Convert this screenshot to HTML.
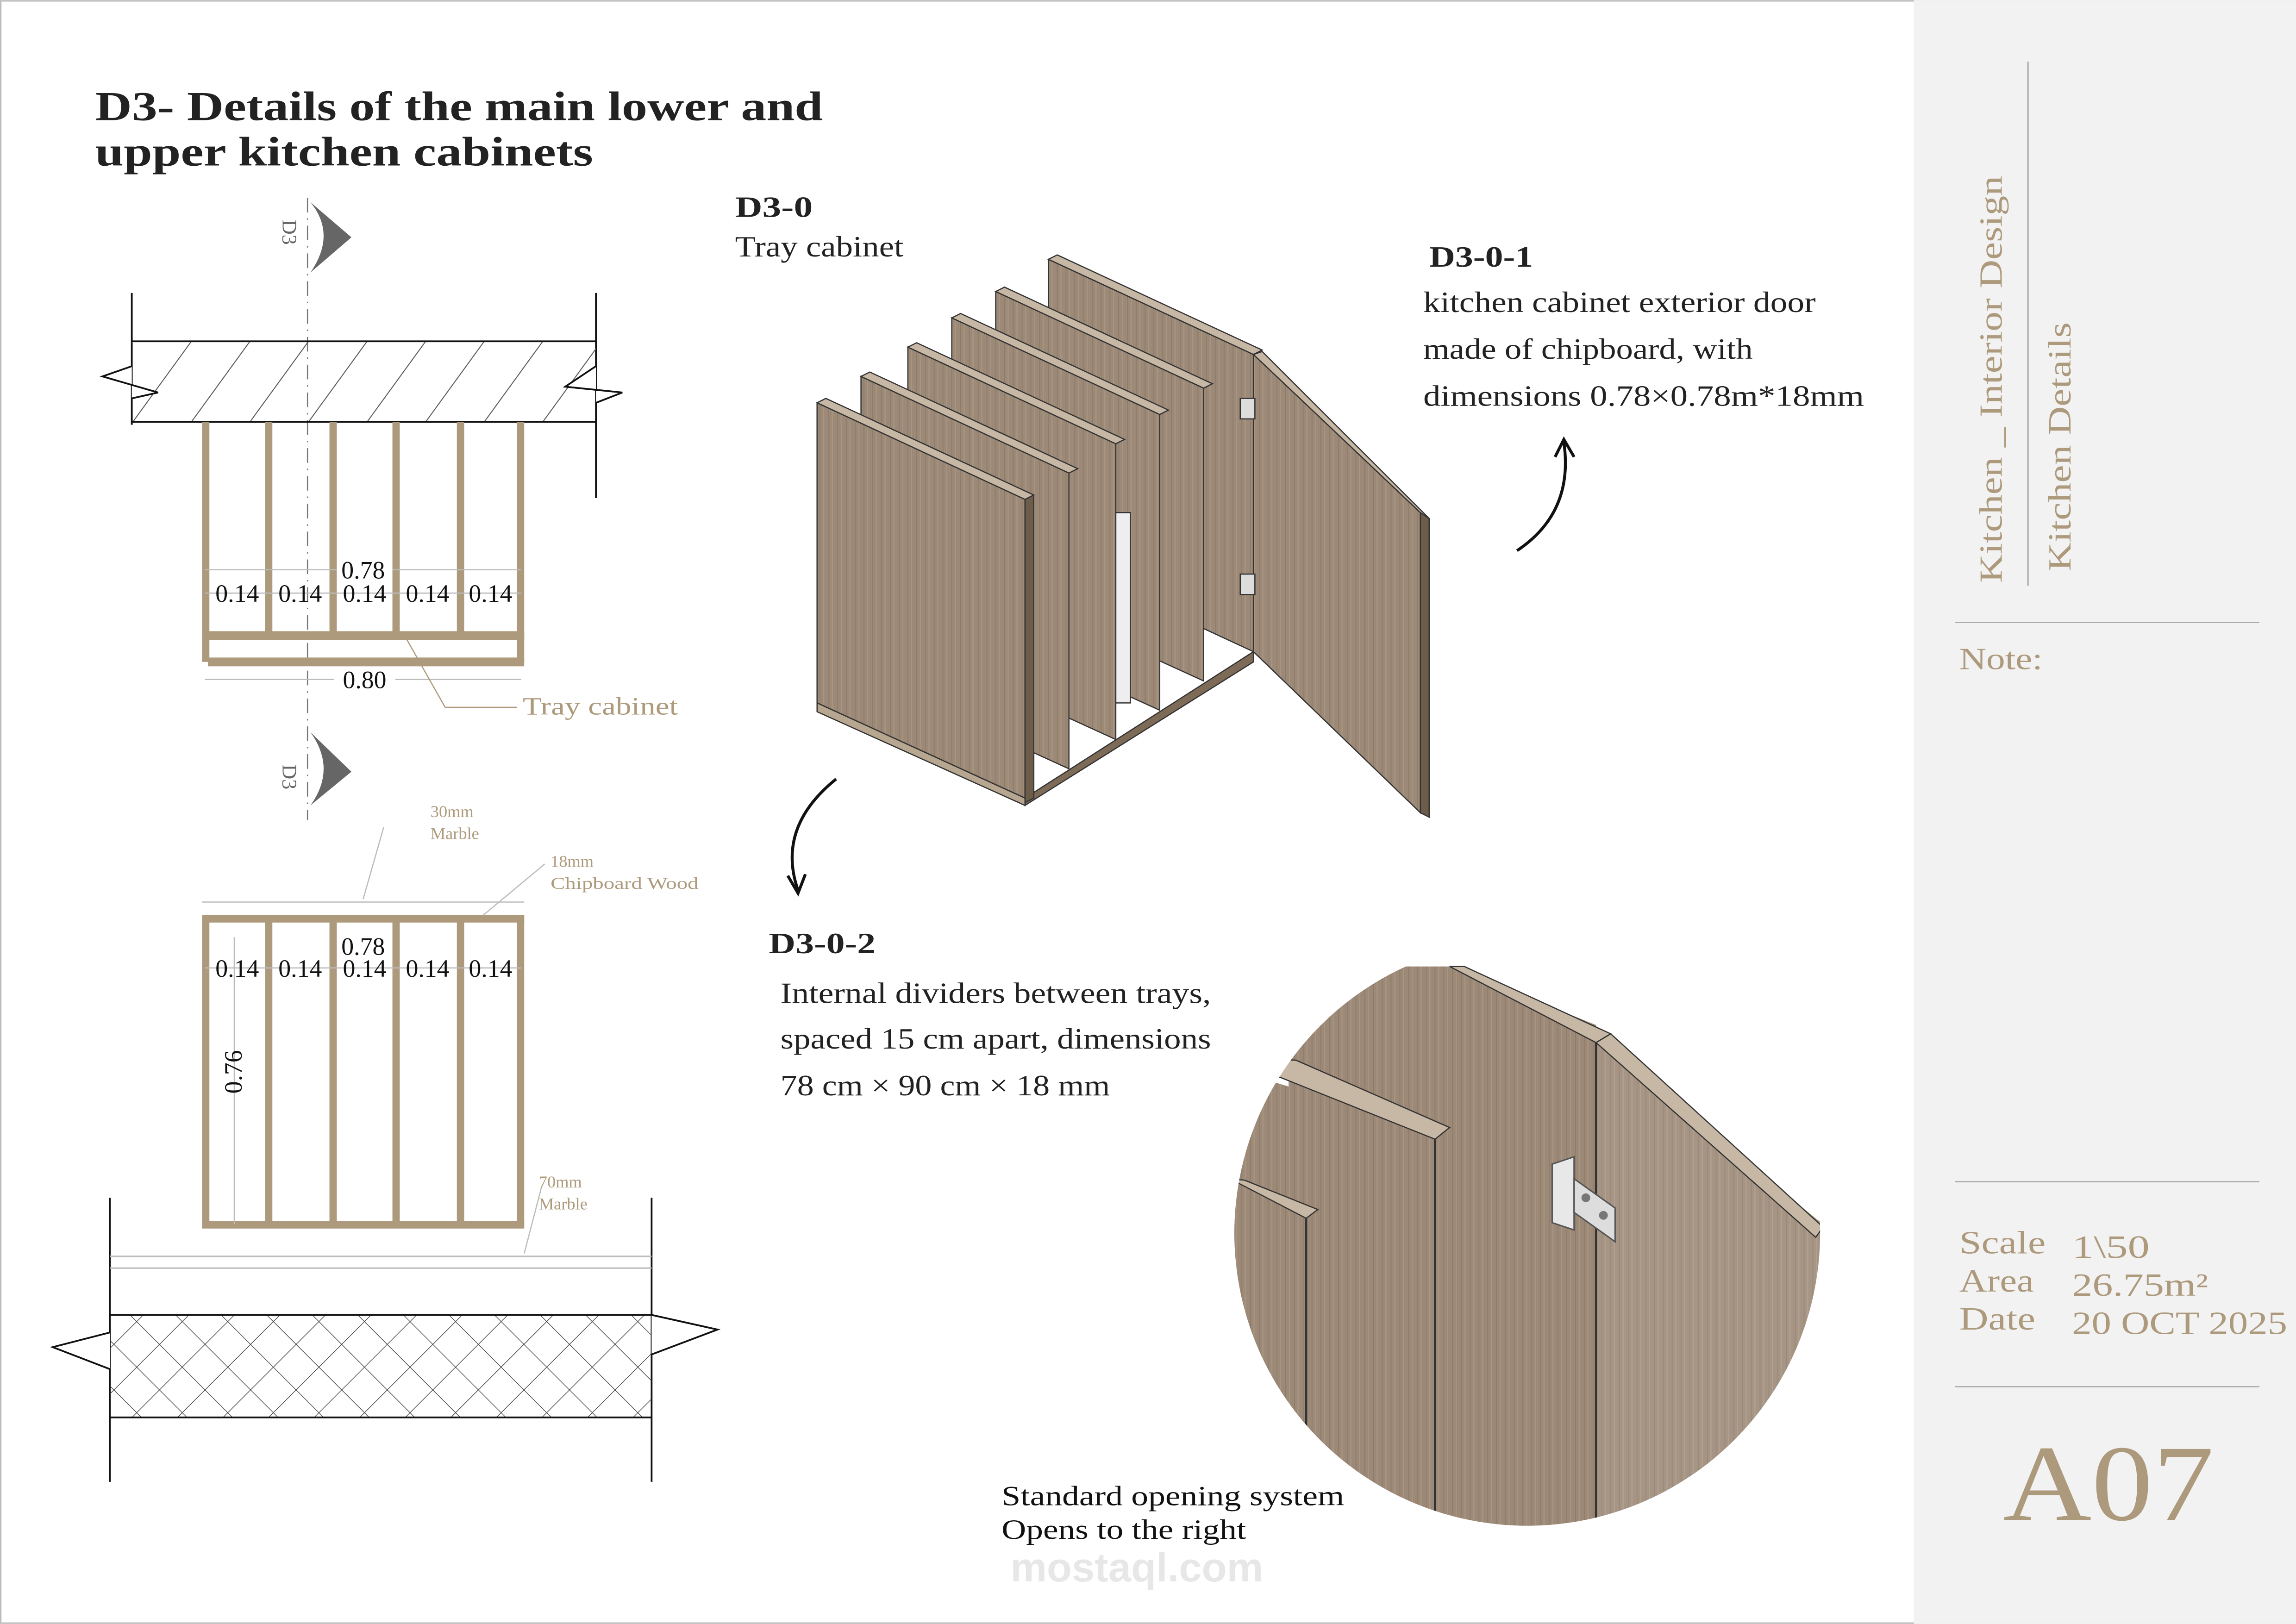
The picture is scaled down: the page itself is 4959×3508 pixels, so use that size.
<!DOCTYPE html>
<html><head><meta charset="utf-8"><style>
html,body{margin:0;padding:0;background:#fff}
svg{display:block}
</style></head><body>
<svg width="4959" height="3508" viewBox="0 0 1568 1109" xmlns="http://www.w3.org/2000/svg" font-family="Liberation Serif, serif">
<defs>
<pattern id="hatch" width="40" height="40" patternUnits="userSpaceOnUse" patternTransform="skewX(-36)">
<line x1="20" y1="0" x2="20" y2="40" stroke="#555" stroke-width="0.8"/>
</pattern>
<pattern id="cross" width="22" height="22" patternUnits="userSpaceOnUse" patternTransform="rotate(45)">
<path d="M0 0H22M0 0V22" stroke="#333" stroke-width="0.8" fill="none"/>
</pattern>
<pattern id="grain" width="6" height="200" patternUnits="userSpaceOnUse">
<rect width="6" height="200" fill="#9c8977"/>
<line x1="2" y1="0" x2="2" y2="200" stroke="#86735f" stroke-width="0.6" opacity="0.6"/>
<line x1="4.5" y1="0" x2="4.5" y2="200" stroke="#b09c86" stroke-width="0.8" opacity="0.6"/>
</pattern>
<clipPath id="circ"><circle cx="1043" cy="842" r="200"/></clipPath>
</defs>
<rect width="1568" height="1109" fill="#fff"/>
<rect x="0.5" y="0.5" width="1567" height="1108" fill="none" stroke="#bbb"/>
<!-- right panel -->
<rect x="1307" y="0" width="261" height="1109" fill="#f2f2f2"/>
<line x1="1385" y1="42" x2="1385" y2="400" stroke="#999" stroke-width="0.8"/>
<text transform="translate(1367,398) rotate(-90)" font-size="22" fill="#ad9a7c" textLength="278" lengthAdjust="spacingAndGlyphs">Kitchen _ Interior Design</text>
<text transform="translate(1414,390) rotate(-90)" font-size="22" fill="#ad9a7c" textLength="170" lengthAdjust="spacingAndGlyphs">Kitchen Details</text>
<line x1="1335" y1="425" x2="1543" y2="425" stroke="#aaa" stroke-width="0.8"/>
<text x="1338" y="457" font-size="21" fill="#ad9a7c" textLength="57" lengthAdjust="spacingAndGlyphs">Note:</text>
<line x1="1335" y1="807" x2="1543" y2="807" stroke="#aaa" stroke-width="0.8"/>
<g font-size="22" fill="#ad9a7c">
<text x="1338" y="856" textLength="59" lengthAdjust="spacingAndGlyphs">Scale</text><text x="1415" y="859" textLength="53" lengthAdjust="spacingAndGlyphs">1\50</text>
<text x="1338" y="882" textLength="51" lengthAdjust="spacingAndGlyphs">Area</text><text x="1415" y="885" textLength="93" lengthAdjust="spacingAndGlyphs">26.75m²</text>
<text x="1338" y="908" textLength="52" lengthAdjust="spacingAndGlyphs">Date</text><text x="1415" y="911" textLength="147" lengthAdjust="spacingAndGlyphs">20 OCT 2025</text>
</g>
<line x1="1335" y1="947" x2="1543" y2="947" stroke="#aaa" stroke-width="0.8"/>
<text x="1368" y="1038" font-size="74" fill="#ad9a7c" textLength="144" lengthAdjust="spacingAndGlyphs">A07</text>

<!-- title -->
<text x="65" y="82" font-size="28" font-weight="bold" fill="#222" textLength="497" lengthAdjust="spacingAndGlyphs">D3- Details of the main lower and</text>
<text x="65" y="113" font-size="28" font-weight="bold" fill="#222" textLength="340" lengthAdjust="spacingAndGlyphs">upper kitchen cabinets</text>

<!-- section marks -->
<line x1="210" y1="135" x2="210" y2="560" stroke="#777" stroke-width="0.8" stroke-dasharray="10,4,1,4"/>
<path d="M212 138 Q230 160 212 186 L240 162 Z" fill="#666"/>
<text transform="translate(193,150) rotate(90)" font-size="14" fill="#666">D3</text>
<path d="M212 500 Q230 525 212 550 L240 527 Z" fill="#666"/>
<text transform="translate(193,522) rotate(90)" font-size="14" fill="#666">D3</text>

<!-- top slab -->
<line x1="90" y1="200" x2="90" y2="290" stroke="#111" stroke-width="1.2"/>
<line x1="407" y1="200" x2="407" y2="340" stroke="#111" stroke-width="1.2"/>
<rect x="90" y="233" width="317" height="55" fill="url(#hatch)"/>
<line x1="90" y1="233" x2="407" y2="233" stroke="#111" stroke-width="1.2"/>
<line x1="90" y1="288" x2="407" y2="288" stroke="#111" stroke-width="1.2"/>
<path d="M90 250 L70 257 L108 268 L90 272" fill="#fff" stroke="#111" stroke-width="1.2"/>
<path d="M407 250 L386 264 L425 268 L407 275" fill="#fff" stroke="#111" stroke-width="1.2"/>
<!-- upper cabinet -->
<g fill="#ad9a7c">
<rect x="138" y="288" width="5" height="164"/><rect x="181" y="288" width="5" height="147"/>
<rect x="225" y="288" width="5" height="147"/><rect x="268" y="288" width="5" height="147"/>
<rect x="312" y="288" width="5" height="147"/><rect x="353" y="288" width="5" height="164"/>
<rect x="138" y="431" width="220" height="6"/><rect x="142" y="449" width="216" height="6"/>
</g>
<g stroke="#bbb" stroke-width="0.8"><line x1="140" y1="389" x2="230" y2="389"/><line x1="268" y1="389" x2="356" y2="389"/>
<line x1="140" y1="405" x2="356" y2="405"/><line x1="140" y1="464" x2="228" y2="464"/><line x1="270" y1="464" x2="356" y2="464"/></g>
<g font-size="17" fill="#111" text-anchor="middle">
<text x="248" y="395">0.78</text>
<text x="162" y="411">0.14</text><text x="205" y="411">0.14</text><text x="249" y="411">0.14</text><text x="292" y="411">0.14</text><text x="335" y="411">0.14</text>
<text x="249" y="470">0.80</text>
</g>
<path d="M278 437 L304 483 L353 483" fill="none" stroke="#ad9a7c" stroke-width="0.8"/>
<text x="357" y="488" font-size="17" fill="#ad9a7c" textLength="106" lengthAdjust="spacingAndGlyphs">Tray cabinet</text>

<!-- lower cabinet -->
<g fill="#ad9a7c">
<rect x="138" y="625" width="220" height="5"/>
<rect x="138" y="625" width="5" height="213"/><rect x="181" y="625" width="5" height="213"/>
<rect x="225" y="625" width="5" height="213"/><rect x="268" y="625" width="5" height="213"/>
<rect x="312" y="625" width="5" height="213"/><rect x="353" y="625" width="5" height="213"/>
<rect x="138" y="834" width="220" height="5"/>
</g>
<g stroke="#bbb" stroke-width="0.8"><line x1="138" y1="616" x2="358" y2="616"/><line x1="140" y1="661" x2="356" y2="661"/><line x1="160" y1="640" x2="160" y2="836"/>
<line x1="262" y1="565" x2="248" y2="614"/><line x1="372" y1="590" x2="330" y2="625"/><line x1="370" y1="810" x2="358" y2="856"/></g>
<g font-size="17" fill="#111" text-anchor="middle">
<text x="248" y="652">0.78</text>
<text x="162" y="667">0.14</text><text x="205" y="667">0.14</text><text x="249" y="667">0.14</text><text x="292" y="667">0.14</text><text x="335" y="667">0.14</text>
<text transform="translate(165,732) rotate(-90)">0.76</text>
</g>
<g font-size="11.5" fill="#ad9a7c">
<text x="294" y="558">30mm</text><text x="294" y="573">Marble</text>
<text x="376" y="592">18mm</text><text x="376" y="607" textLength="101" lengthAdjust="spacingAndGlyphs">Chipboard Wood</text>
<text x="368" y="811">70mm</text><text x="368" y="826">Marble</text>
</g>
<!-- floor -->
<line x1="75" y1="818" x2="75" y2="1012" stroke="#111" stroke-width="1.2"/>
<line x1="445" y1="818" x2="445" y2="1012" stroke="#111" stroke-width="1.2"/>
<line x1="75" y1="858" x2="445" y2="858" stroke="#bbb"/><line x1="75" y1="866" x2="445" y2="866" stroke="#bbb"/>
<rect x="75" y="898" width="370" height="70" fill="url(#cross)"/>
<line x1="75" y1="898" x2="445" y2="898" stroke="#111" stroke-width="1.2"/>
<line x1="75" y1="968" x2="445" y2="968" stroke="#111" stroke-width="1.2"/>
<path d="M75 898 L75 910 L36 920 L75 935" fill="#fff" stroke="#111" stroke-width="1.2"/>
<path d="M445 898 L490 908 L445 925" fill="#fff" stroke="#111" stroke-width="1.2"/>

<!-- labels -->
<text x="502" y="148" font-size="20" font-weight="bold" fill="#222" textLength="53" lengthAdjust="spacingAndGlyphs">D3-0</text>
<text x="502" y="175" font-size="20" fill="#222" textLength="115" lengthAdjust="spacingAndGlyphs">Tray cabinet</text>
<text x="976" y="182" font-size="20" font-weight="bold" fill="#222" textLength="71" lengthAdjust="spacingAndGlyphs">D3-0-1</text>
<g font-size="20" fill="#222">
<text x="972" y="213" textLength="268" lengthAdjust="spacingAndGlyphs">kitchen cabinet exterior door</text>
<text x="972" y="245" textLength="225" lengthAdjust="spacingAndGlyphs">made of chipboard, with</text>
<text x="972" y="277" textLength="301" lengthAdjust="spacingAndGlyphs">dimensions 0.78×0.78m*18mm</text>
</g>
<text x="525" y="651" font-size="20" font-weight="bold" fill="#222" textLength="73" lengthAdjust="spacingAndGlyphs">D3-0-2</text>
<g font-size="20" fill="#222">
<text x="533" y="685" textLength="294" lengthAdjust="spacingAndGlyphs">Internal dividers between trays,</text>
<text x="533" y="716" textLength="294" lengthAdjust="spacingAndGlyphs">spaced 15 cm apart, dimensions</text>
<text x="533" y="748" textLength="225" lengthAdjust="spacingAndGlyphs">78 cm × 90 cm × 18 mm</text>
</g>
<path d="M1036 376 Q1075 350 1068 302" fill="none" stroke="#111" stroke-width="2"/>
<path d="M1062 312 L1068 300 L1075 312" fill="none" stroke="#111" stroke-width="2"/>
<path d="M571 532 Q530 565 545 608" fill="none" stroke="#111" stroke-width="2"/>
<path d="M538 598 L545 610 L550 597" fill="none" stroke="#111" stroke-width="2"/>

<!-- isometric cabinet -->
<g stroke="#333" stroke-width="0.8">
<polygon points="716,177 856,242 856,445 716,380" fill="url(#grain)"/>
<polygon points="716,177 722,174 862,239 856,242" fill="#c7b8a5"/>
<polygon points="680,199 822,265 822,465 680,400" fill="url(#grain)"/>
<polygon points="680,199 686,196 828,262 822,265" fill="#c7b8a5"/>
<polygon points="650,217 792,283 792,485 650,420" fill="url(#grain)"/>
<polygon points="650,217 656,214 798,280 792,283" fill="#c7b8a5"/>
<polygon points="620,237 762,303 762,505 620,440" fill="url(#grain)"/>
<polygon points="620,237 626,234 768,300 762,303" fill="#c7b8a5"/>
<rect x="762" y="350" width="10" height="130" fill="#eee"/>
<polygon points="588,257 730,323 730,525 588,460" fill="url(#grain)"/>
<polygon points="588,257 594,254 736,320 730,323" fill="#c7b8a5"/>
<polygon points="700,545 856,445 856,452 700,550" fill="#7d6a57"/>
<polygon points="558,275 700,341 700,545 558,480" fill="url(#grain)"/>
<polygon points="558,275 564,272 706,338 700,341" fill="#c7b8a5"/>
<polygon points="700,341 706,338 706,545 700,548" fill="#6e5c4a"/>
<polygon points="558,480 700,545 700,550 558,486" fill="#b7a690"/>
<polygon points="856,242 970,350 970,555 856,445" fill="url(#grain)"/>
<polygon points="856,242 862,240 976,354 970,350" fill="#c7b8a5"/>
<polygon points="970,350 976,354 976,558 970,555" fill="#6e5c4a"/>
<rect x="847" y="272" width="10" height="14" fill="#ddd"/>
<rect x="847" y="392" width="10" height="14" fill="#ddd"/>
</g>

<!-- circle detail -->
<g clip-path="url(#circ)">
<rect x="840" y="640" width="410" height="410" fill="#fff"/>
<polygon points="880,660 990,660 1090,700 1090,1050 880,1050" fill="url(#grain)"/>
<polygon points="990,660 1000,660 1100,706 1090,712" fill="#c7b8a5" stroke="#333" stroke-width="0.8"/>
<polygon points="1090,712 1250,840 1250,1050 1090,1050" fill="url(#grain)" opacity="0.9"/>
<polygon points="1090,712 1100,706 1245,838 1240,845" fill="#c7b8a5" stroke="#333" stroke-width="0.8"/>
<line x1="1090" y1="712" x2="1090" y2="1050" stroke="#333" stroke-width="1.5"/>
<polygon points="840,730 990,775 990,1050 840,1050" fill="url(#grain)"/>
<polygon points="840,722 885,724 990,770 980,778" fill="#c7b8a5" stroke="#333" stroke-width="0.8"/>
<line x1="980" y1="778" x2="980" y2="1050" stroke="#333" stroke-width="1.5"/>
<polygon points="840,810 900,828 900,1050 840,1050" fill="url(#grain)"/>
<polygon points="840,805 850,806 900,826 892,832" fill="#c7b8a5" stroke="#333" stroke-width="0.8"/>
<line x1="892" y1="832" x2="892" y2="1050" stroke="#333" stroke-width="1.5"/>
<polygon points="1060,795 1075,790 1075,840 1060,835" fill="#e8e8e8" stroke="#555"/>
<polygon points="1075,805 1103,825 1103,848 1075,828" fill="#ddd" stroke="#555"/>
<circle cx="1083" cy="818" r="3" fill="#777"/><circle cx="1095" cy="830" r="3" fill="#777"/>
</g>

<g font-size="19" fill="#111">
<text x="684" y="1028" textLength="234" lengthAdjust="spacingAndGlyphs">Standard opening system</text>
<text x="684" y="1051" textLength="167" lengthAdjust="spacingAndGlyphs">Opens to the right</text>
</g>
<text x="690" y="1080" font-size="28" font-family="Liberation Sans, sans-serif" font-weight="bold" fill="#ddd" opacity="0.7">mostaql.com</text>
</svg>
</body></html>
